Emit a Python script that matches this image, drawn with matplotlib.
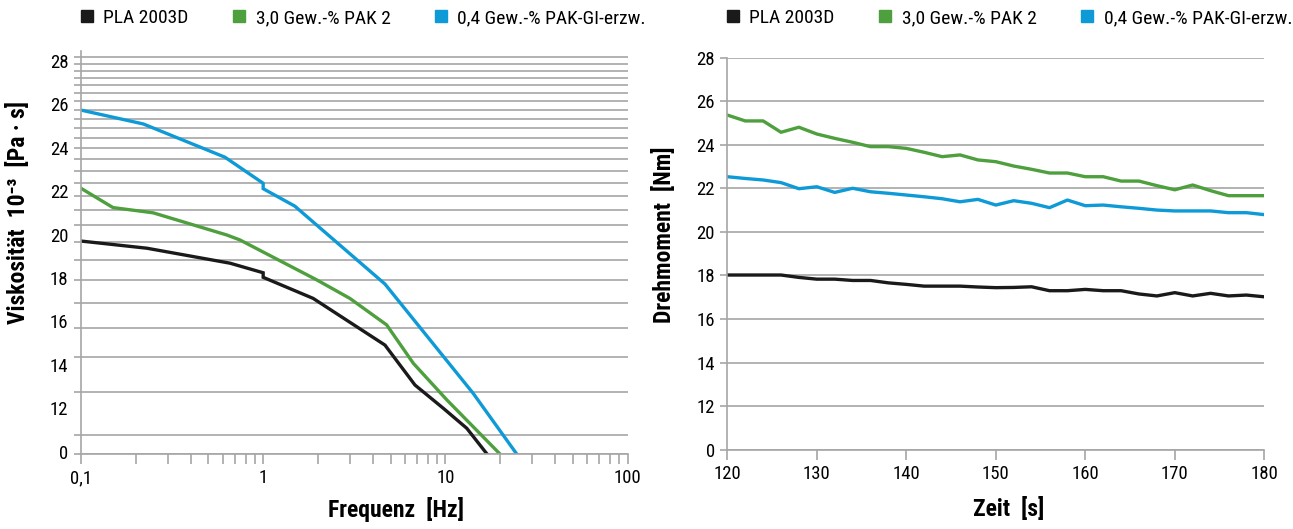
import matplotlib
matplotlib.use("Agg")
import matplotlib.pyplot as plt
from matplotlib.lines import Line2D
from matplotlib.ticker import FixedLocator, NullFormatter, LogLocator
from matplotlib import font_manager

names = {f.name for f in font_manager.fontManager.ttflist}
fams = [f for f in ['Liberation Sans Narrow', 'DejaVu Sans Condensed', 'Roboto Condensed',
                    'Liberation Sans'] if f in names]
plt.rcParams['font.family'] = fams + ['DejaVu Sans']

# colours
BLACK = "#1a1a1a"
GREEN = "#4e9f3d"
BLUE = "#0e9ad7"
GRID = "#a6a6a6"

series_names = ["PLA 2003D", "3,0 Gew.-% PAK 2", "0,4 Gew.-% PAK-GI-erzw."]

# left panel: viscosity vs frequency (y in label units, label "0" sits at 10)
freq_pla = [0.1, 0.23, 0.658, 1.0, 1.0, 1.88, 4.66, 6.81, 9.74, 13.1, 16.9]
visc_pla = [19.70, 19.37, 18.68, 18.24, 18.03, 17.06, 14.91, 13.07, 12.0, 11.08, 9.9]
freq_pak2 = [0.1, 0.15, 0.249, 0.631, 0.746, 1.97, 2.99, 4.76, 6.67, 10.2, 19.9]
visc_pak2 = [22.13, 21.24, 21.0, 19.98, 19.75, 17.91, 17.06, 15.84, 14.07, 12.38, 9.9]
freq_pakgi = [0.1, 0.22, 0.617, 1.0, 1.0, 1.49, 4.66, 14.2, 24.6]
visc_pakgi = [25.73, 25.09, 23.56, 22.36, 22.11, 21.31, 17.72, 12.69, 9.9]

left_tick_pos = [10, 12, 14, 16, 18, 20, 22, 24, 26, 28]
left_tick_lab = ["0", "12", "14", "16", "18", "20", "22", "24", "26", "28"]
left_grid_vals = list(range(4, 30))  # log-spaced grid of the original chart

# right panel: torque vs time
zeit = [120, 122, 124, 126, 128, 130, 132, 134, 136, 138, 140, 142, 144, 146, 148, 150,
        152, 154, 156, 158, 160, 162, 164, 166, 168, 170, 172, 174, 176, 178, 180]
torque_pla = [18.02, 18.02, 18.02, 18.02, 17.91, 17.83, 17.83, 17.77, 17.77, 17.66, 17.59,
              17.51, 17.51, 17.51, 17.47, 17.44, 17.45, 17.48, 17.30, 17.30, 17.36, 17.30,
              17.30, 17.15, 17.06, 17.21, 17.06, 17.18, 17.06, 17.10, 17.02]
torque_pak2 = [25.36, 25.09, 25.09, 24.57, 24.80, 24.49, 24.29, 24.11, 23.91, 23.91, 23.83,
               23.65, 23.45, 23.53, 23.30, 23.22, 23.02, 22.87, 22.70, 22.70, 22.53, 22.53,
               22.33, 22.33, 22.12, 21.93, 22.15, 21.89, 21.66, 21.66, 21.66]
torque_pakgi = [22.53, 22.45, 22.38, 22.26, 21.98, 22.07, 21.81, 22.00, 21.84, 21.77, 21.69,
                21.61, 21.52, 21.38, 21.49, 21.23, 21.43, 21.31, 21.11, 21.46, 21.20, 21.23,
                21.15, 21.08, 21.00, 20.96, 20.96, 20.96, 20.88, 20.88, 20.79]

right_tick_pos = [10, 12, 14, 16, 18, 20, 22, 24, 26, 28]
right_tick_lab = ["0", "12", "14", "16", "18", "20", "22", "24", "26", "28"]

fig = plt.figure(figsize=(12.93, 5.29), dpi=100)

LW = 2.4
TICK_FS = 13.5
LEG_FS = 14
LABEL_FS = 17


def style_spines(ax):
    for s in ["top", "right"]:
        ax.spines[s].set_visible(False)
    for s in ["left", "bottom"]:
        ax.spines[s].set_color(GRID)
        ax.spines[s].set_linewidth(1.2)


def add_legend(ax, x0, y0):
    handles = [Line2D([], [], color=c, marker="s", linestyle="none", markersize=8)
               for c in (BLACK, GREEN, BLUE)]
    ax.legend(handles, series_names, loc="center left", bbox_to_anchor=(x0, y0),
              ncol=3, frameon=False, fontsize=LEG_FS, handlelength=0.8,
              handletextpad=0.45, columnspacing=2.2, borderaxespad=0, borderpad=0)


# ---- left panel ----
axg = fig.add_axes([0.0626, 0.1418, 0.4228, 0.7618])
ax1 = fig.add_axes([0.0626, 0.1418, 0.4228, 0.7618], sharex=axg)
ax1.set_zorder(axg.get_zorder() + 1)
ax1.patch.set_visible(False)

# grid axis (log spaced lines)
axg.set_xscale("log")
axg.set_yscale("log")
axg.set_ylim(3.615, 29.96)
axg.yaxis.set_major_locator(FixedLocator([]))
axg.yaxis.set_minor_locator(FixedLocator(left_grid_vals + [3.615]))
axg.yaxis.set_minor_formatter(NullFormatter())
axg.grid(True, which="minor", axis="y", color=GRID, linewidth=1.2)
axg.tick_params(axis="y", which="minor", length=5, color=GRID, width=1.2)
for s in axg.spines.values():
    s.set_visible(False)
axg.tick_params(axis="x", which="both", bottom=False, labelbottom=False)

ax1.plot(freq_pla, visc_pla, color=BLACK, lw=LW, solid_joinstyle="miter")
ax1.plot(freq_pak2, visc_pak2, color=GREEN, lw=LW)
ax1.plot(freq_pakgi, visc_pakgi, color=BLUE, lw=LW, solid_joinstyle="miter")
ax1.set_xscale("log")
ax1.set_xlim(0.1, 100)
ax1.set_ylim(9.896, 28.45)
ax1.set_yticks(left_tick_pos)
ax1.set_yticklabels(left_tick_lab)
ax1.tick_params(axis="y", length=0, pad=9, labelsize=TICK_FS)
ax1.xaxis.set_major_locator(FixedLocator([0.1, 1, 10, 100]))
ax1.set_xticklabels(["0,1", "1", "10", "100"])
ax1.xaxis.set_minor_locator(LogLocator(base=10, subs=range(2, 10)))
ax1.xaxis.set_minor_formatter(NullFormatter())
ax1.tick_params(axis="x", which="both", length=7, color=GRID, width=1.2,
                labelsize=TICK_FS, pad=4)
style_spines(ax1)
ax1.set_xlabel("Frequenz  [Hz]", fontsize=LABEL_FS, fontweight="bold")
ax1.xaxis.set_label_coords(0.576, -0.107)
ax1.set_ylabel("Viskosität  10⁻³  [Pa · s]", fontsize=LABEL_FS, fontweight="bold")
ax1.yaxis.set_label_coords(-0.093, 0.60)
add_legend(ax1, -0.004, 1.082)

# ---- right panel ----
ax2 = fig.add_axes([0.5625, 0.1497, 0.4153, 0.7416])
ax2.plot(zeit, torque_pla, color=BLACK, lw=LW)
ax2.plot(zeit, torque_pak2, color=GREEN, lw=LW)
ax2.plot(zeit, torque_pakgi, color=BLUE, lw=LW)
ax2.set_xlim(120, 180)
ax2.set_ylim(10, 28)
ax2.set_xticks(range(120, 181, 10))
ax2.set_yticks(right_tick_pos)
ax2.set_yticklabels(right_tick_lab)
ax2.grid(True, axis="y", color=GRID, linewidth=1.2)
ax2.set_axisbelow(True)
ax2.tick_params(axis="y", length=5, color=GRID, width=1.2, labelsize=TICK_FS, pad=4)
ax2.tick_params(axis="x", length=7, color=GRID, width=1.2, labelsize=TICK_FS, pad=4)
style_spines(ax2)
ax2.set_xlabel("Zeit  [s]", fontsize=LABEL_FS, fontweight="bold")
ax2.xaxis.set_label_coords(0.5246, -0.12)
ax2.set_ylabel("Drehmoment  [Nm]", fontsize=LABEL_FS, fontweight="bold")
ax2.yaxis.set_label_coords(-0.0955, 0.548)
add_legend(ax2, -0.004, 1.1007)

fig.savefig("out.png", dpi=100)
